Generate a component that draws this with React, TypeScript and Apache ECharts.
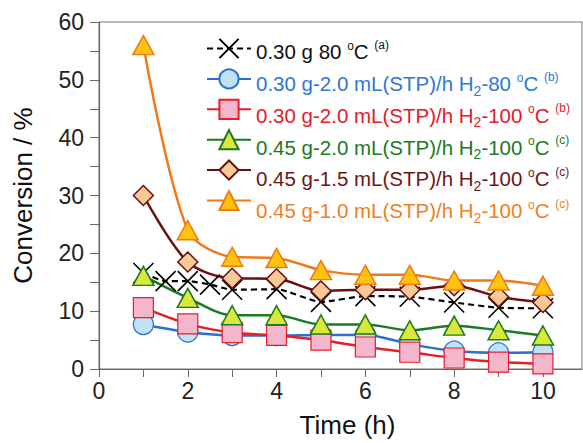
import React, { useEffect, useRef } from "react";
import * as echarts from "echarts";

const times = [1, 2, 3, 4, 5, 6, 7, 8, 9, 10];
const blackTimes = [1, 1.5, 2, 2.5, 3, 4, 5, 6, 7, 8, 9, 10];
const black = [16.6, 15.2, 15.2, 14.6, 13.7, 13.8, 11.6, 12.6, 12.5, 11.5, 10.6, 10.5];
const blue = [7.7, 6.4, 5.8, 5.8, 5.9, 5.9, 4.3, 3.1, 2.8, 2.9];
const red = [10.6, 7.8, 6.3, 5.8, 5.0, 3.8, 2.9, 1.9, 1.2, 0.9];
const green = [16.1, 12.3, 9.3, 9.3, 7.7, 7.7, 6.7, 7.5, 6.7, 5.8];
const brown = [30, 18.5, 15.7, 15.6, 13.5, 13.7, 13.7, 14.4, 12.5, 11.5];
const orange = [56, 24, 19.4, 19.2, 17.1, 16.3, 16.3, 15.3, 15.3, 14.4];

const xTicks = [0, 1, 2, 3, 4, 5, 6, 7, 8, 9, 10];
const xLabels = [0, 2, 4, 6, 8, 10];

const names = ["s1", "s2", "s3", "s4", "s5", "s6"];
const legendRich = [
  "{n|0.30 g 80 }{deg|o}{n|C }{sup|(a)}",
  "{n|0.30 g-2.0 mL(STP)/h H}{sub|2}{n|-80 }{deg|o}{n|C }{sup|(b)}",
  "{n|0.30 g-2.0 mL(STP)/h H}{sub|2}{n|-100 }{deg|o}{n|C }{sup|(b)}",
  "{n|0.45 g-2.0 mL(STP)/h H}{sub|2}{n|-100 }{deg|o}{n|C }{sup|(c)}",
  "{n|0.45 g-1.5 mL(STP)/h H}{sub|2}{n|-100 }{deg|o}{n|C }{sup|(c)}",
  "{n|0.45 g-1.0 mL(STP)/h H}{sub|2}{n|-100 }{deg|o}{n|C }{sup|(c)}",
];
const textColors = ["#111111", "#2f78d2", "#e0202a", "#1b7a22", "#6e1616", "#ef7f24"];

const FONT = "Liberation Sans, Arial, sans-serif";

export default function App() {
  const ref = useRef<HTMLDivElement>(null);
  useEffect(() => {
    const chart = echarts.init(ref.current!, undefined, { renderer: "svg" });
    const pair = (xs: number[], ys: number[]) => xs.map((x, i) => [x, ys[i]]);
    const common = { smooth: 0.3, symbolSize: 20, z: 3 };
    const rowStep = 31.8;
    const firstRow = 50.5;
    chart.setOption({
      animation: false,
      textStyle: { fontFamily: FONT },
      grid: { left: 99, right: 1, top: 22, bottom: 71, show: true, borderColor: "#777", borderWidth: 1 },
      legend: {
        orient: "vertical",
        left: 206,
        top: firstRow - 2 - 12,
        padding: 0,
        itemWidth: 44,
        itemHeight: 24,
        itemGap: rowStep - 24,
        data: names,
        formatter: () => "",
        textStyle: { fontSize: 12 },
      },
      graphic: legendRich.map((t, i) => ({
        type: "text",
        x: 256,
        y: firstRow + rowStep * i + 1.2,
        z: 10,
        style: {
          text: t,
          fill: textColors[i],
          fontSize: 20.5,
          fontFamily: FONT,
          align: "left",
          verticalAlign: "middle",
          rich: {
            n: { fontSize: 20.5, fontFamily: FONT, fill: textColors[i] },
            deg: { fontSize: 12, padding: [0, 0, 12, 0], fontFamily: FONT, fill: textColors[i] },
            sup: { fontSize: 12, padding: [0, 0, 14, 0], fontFamily: FONT, fill: textColors[i] },
            sub: { fontSize: 14, padding: [14, 0, 0, 0], fontFamily: FONT, fill: textColors[i] },
          },
        },
      })),
      xAxis: {
        type: "value",
        min: 0,
        max: 10.88,
        name: "Time (h)",
        nameLocation: "middle",
        nameGap: 43,
        nameTextStyle: { fontSize: 26, color: "#111", fontFamily: FONT, padding: [0, 0, 0, 14] },
        axisLine: { lineStyle: { color: "#666", width: 1.2 } },
        axisTick: { show: true, length: 8, inside: false, customValues: xTicks, lineStyle: { color: "#666" } },
        axisLabel: { customValues: xLabels, fontSize: 23, color: "#222", margin: 10, fontFamily: FONT },
        splitLine: { show: false },
      },
      yAxis: {
        type: "value",
        min: 0,
        max: 60,
        interval: 5,
        name: "Conversion / %",
        nameLocation: "middle",
        nameGap: 63,
        nameTextStyle: { fontSize: 26, color: "#111", fontFamily: FONT },
        axisLine: { show: true, lineStyle: { color: "#666", width: 1.2 } },
        axisTick: { show: true, length: 9, lineStyle: { color: "#666" } },
        axisLabel: {
          fontSize: 23,
          color: "#222",
          margin: 15,
          fontFamily: FONT,
          formatter: (v: number) => (v % 10 === 0 ? String(v) : ""),
        },
        splitLine: { show: false },
      },
      series: [
        {
          ...common,
          name: "s1",
          type: "line",
          smooth: 0.2,
          data: pair(blackTimes, black),
          symbol: "path://M0,0L10,10M10,0L0,10",
          symbolSize: 20,
          lineStyle: { color: "#000", width: 2.2, type: [6, 4] },
          itemStyle: { color: "rgba(0,0,0,0)", borderColor: "#000", borderWidth: 1.6 },
        },
        {
          ...common,
          name: "s2",
          type: "line",
          data: pair(times, blue),
          symbol: "circle",
          lineStyle: { color: "#2a6fd6", width: 2.5 },
          itemStyle: { color: "#bfe2f4", borderColor: "#2a6fd6", borderWidth: 1.2 },
        },
        {
          ...common,
          name: "s3",
          type: "line",
          data: pair(times, red),
          symbol: "rect",
          lineStyle: { color: "#e61e28", width: 2.5 },
          itemStyle: { color: "#f3b6cd", borderColor: "#e61e28", borderWidth: 1.2 },
        },
        {
          ...common,
          name: "s4",
          type: "line",
          data: pair(times, green),
          symbol: "triangle",
          symbolSize: [21, 19],
          lineStyle: { color: "#1b7a22", width: 2.5 },
          itemStyle: { color: "#d9e83a", borderColor: "#1b7a22", borderWidth: 1.5 },
        },
        {
          ...common,
          name: "s5",
          type: "line",
          data: pair(times, brown),
          symbol: "diamond",
          lineStyle: { color: "#6b0f0f", width: 2.5 },
          itemStyle: { color: "#f7c996", borderColor: "#6b0f0f", borderWidth: 1.5 },
        },
        {
          ...common,
          name: "s6",
          type: "line",
          data: pair(times, orange),
          symbol: "triangle",
          symbolSize: [21, 19],
          lineStyle: { color: "#f07a1a", width: 2.5 },
          itemStyle: { color: "#ffc20e", borderColor: "#f07a1a", borderWidth: 1.5 },
        },
      ],
    });
    return () => chart.dispose();
  }, []);
  return (
    <div
      ref={ref}
      style={{ position: "fixed", left: 0, top: 0, width: 583, height: 443, background: "#fff" }}
    />
  );
}
